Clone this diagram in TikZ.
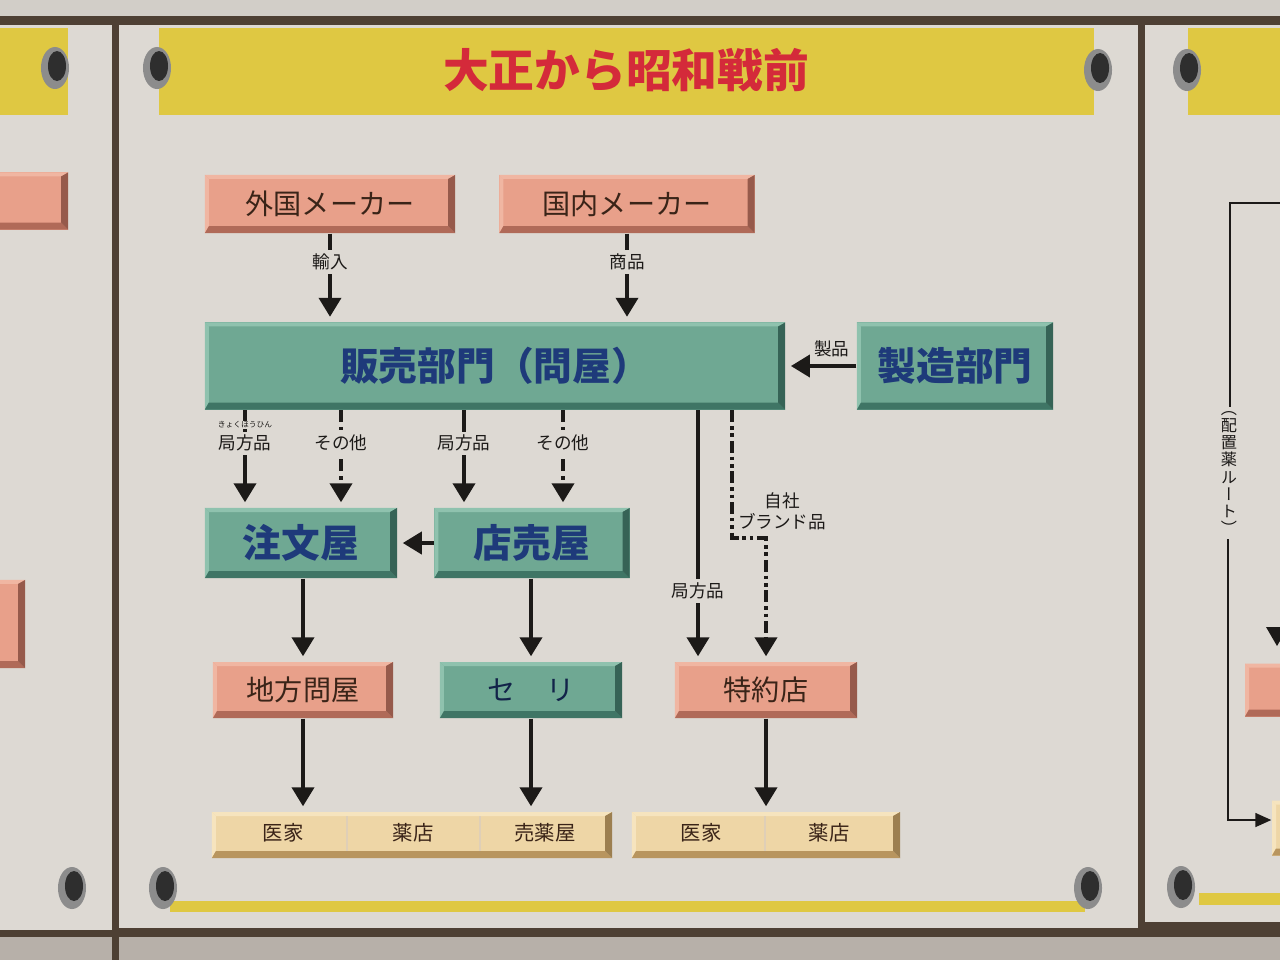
\documentclass[tikz,border=0pt]{standalone}
\usepackage{fontspec}
\usepackage{xcolor}
\usetikzlibrary{arrows.meta,positioning,calc}
\setmainfont{Noto Sans CJK JP}
\newfontfamily\tatefont[RawFeature=+vert]{Noto Sans CJK JP}

\definecolor{panel}{HTML}{DDD9D3}
\definecolor{gapc}{HTML}{4E4034}
\definecolor{lowc}{HTML}{B7B0A9}
\definecolor{ylw}{HTML}{DFC842}
\definecolor{titlered}{HTML}{D42A3A}
\definecolor{peachc}{HTML}{E8A08A}
\definecolor{peachd}{HTML}{B06A58}
\definecolor{peachl}{HTML}{F0B6A2}
\definecolor{greenc}{HTML}{6FA893}
\definecolor{greend}{HTML}{3F7565}
\definecolor{greenl}{HTML}{8FC2AE}
\definecolor{creamc}{HTML}{EED6A6}
\definecolor{creamd}{HTML}{B8955E}
\definecolor{creaml}{HTML}{F6E4BE}
\definecolor{navy}{HTML}{1E3A7A}
\definecolor{browntext}{HTML}{3A2418}
\definecolor{linec}{HTML}{1C1A18}

\tikzset{
  bevel/.style n args={3}{fill=#1, inner sep=0pt, path picture={
    \coordinate (bsw) at (path picture bounding box.south west);
    \coordinate (bse) at (path picture bounding box.south east);
    \coordinate (bnw) at (path picture bounding box.north west);
    \coordinate (bne) at (path picture bounding box.north east);
    \fill[#3] (bnw) -- (bne) -- ([shift={(-0.07cm,-0.04cm)}]bne) -- ([shift={(0.04cm,-0.04cm)}]bnw) -- cycle;
    \fill[#3] (bnw) -- (bsw) -- ([shift={(0.04cm,0.07cm)}]bsw) -- ([shift={(0.04cm,-0.04cm)}]bnw) -- cycle;
    \fill[#2] (bsw) -- (bse) -- ([shift={(-0.07cm,0.07cm)}]bse) -- ([shift={(0.04cm,0.07cm)}]bsw) -- cycle;
    \fill[#2!85!black] (bse) -- (bne) -- ([shift={(-0.07cm,-0.04cm)}]bne) -- ([shift={(-0.07cm,0.07cm)}]bse) -- cycle;
  }},
  peachbox/.style={bevel={peachc}{peachd}{peachl}, text=browntext, font=\fontsize{8}{9}\selectfont},
  greenbox/.style={bevel={greenc}{greend}{greenl}, text=navy, font=\bfseries\fontsize{11}{12}\selectfont},
  creambox/.style={bevel={creamc}{creamd}{creaml}},
  endtxt/.style={text=browntext, font=\fontsize{5.8}{6.5}\selectfont},
  lbl/.style={fill=panel, inner sep=1pt, text=linec, font=\fontsize{5}{6}\selectfont},
  ruby/.style={fill=panel, inner sep=0.3pt, text=linec, font=\fontsize{2.2}{2.5}\selectfont},
  arr/.style={draw=linec, line width=1.1pt, -{Triangle[width=0.22cm,length=0.19cm]}, shorten >=0.05cm},
  dashdot/.style={dash pattern=on 3.4pt off 1.3pt on 1pt off 1.3pt},
  dashdotdot/.style={dash pattern=on 3.4pt off 1.1pt on 1pt off 1.1pt on 1pt off 1.1pt},
  route/.style={draw=linec, line width=0.45pt},
  screwring/.style={fill=black!45},
  screwhole/.style={fill=black!82},
}

\begin{document}
\begin{tikzpicture}[x=0.01cm, y=-0.01cm]
\clip (0,0) rectangle (1280,960);
% 背景のパネル
\fill[gapc] (0,0) rectangle (1280,960);
\fill[panel!95!black] (0,0) rectangle (1280,16);
\fill[panel] (0,25) rectangle (112,930);
\fill[panel] (119,25) rectangle (1138,928);
\fill[panel] (1145,25) rectangle (1280,922);
\fill[lowc] (0,937) rectangle (112,960); \fill[lowc] (119,937) rectangle (1280,960);
\fill[ylw] (0,28) rectangle (68,115); \fill[ylw] (159,28) rectangle (1094,115);
\fill[ylw] (1188,28) rectangle (1280,115);
\fill[ylw] (170,901) rectangle (1085,912); \fill[ylw] (1199,893) rectangle (1280,905);
% ねじ
\fill[screwring] (55,68) ellipse [x radius=0.14cm, y radius=0.21cm];
\fill[screwhole] (57,66) ellipse [x radius=0.09cm, y radius=0.15cm];
\fill[screwring] (157,68) ellipse [x radius=0.14cm, y radius=0.21cm];
\fill[screwhole] (159,66) ellipse [x radius=0.09cm, y radius=0.15cm];
\fill[screwring] (1098,70) ellipse [x radius=0.14cm, y radius=0.21cm];
\fill[screwhole] (1100,68) ellipse [x radius=0.09cm, y radius=0.15cm];
\fill[screwring] (1187,70) ellipse [x radius=0.14cm, y radius=0.21cm];
\fill[screwhole] (1189,68) ellipse [x radius=0.09cm, y radius=0.15cm];
\fill[screwring] (72,888) ellipse [x radius=0.14cm, y radius=0.21cm];
\fill[screwhole] (74,886) ellipse [x radius=0.09cm, y radius=0.15cm];
\fill[screwring] (163,888) ellipse [x radius=0.14cm, y radius=0.21cm];
\fill[screwhole] (165,886) ellipse [x radius=0.09cm, y radius=0.15cm];
\fill[screwring] (1088,888) ellipse [x radius=0.14cm, y radius=0.21cm];
\fill[screwhole] (1090,886) ellipse [x radius=0.09cm, y radius=0.15cm];
\fill[screwring] (1181,887) ellipse [x radius=0.14cm, y radius=0.21cm];
\fill[screwhole] (1183,885) ellipse [x radius=0.09cm, y radius=0.15cm];

\node[text=titlered, font=\bfseries\fontsize{13}{14}\selectfont] (title) at (626,70) {大正から昭和戦前};

% 箱
\node[peachbox, minimum width=2.5cm, minimum height=0.58cm] (gaikoku) at (330,204) {外国メーカー};
\node[peachbox, minimum width=2.55cm, minimum height=0.58cm] (kokunai) at (627,204) {国内メーカー};
\node[greenbox, minimum width=5.8cm, minimum height=0.87cm] (hanbai) at (495,366) {販売部門（問屋）};
\node[greenbox, minimum width=1.96cm, minimum height=0.87cm] (seizo) at (955,366) {製造部門};
\node[greenbox, minimum width=1.92cm, minimum height=0.7cm] (chumon) at (301,543) {注文屋};
\node[greenbox, minimum width=1.95cm, minimum height=0.7cm] (tenuri) at (532,543) {店売屋};
\node[peachbox, minimum width=1.8cm, minimum height=0.56cm] (chiho) at (303,690) {地方問屋};
\node[greenbox, font=\fontsize{8}{9}\selectfont, text=navy!60!black, minimum width=1.82cm, minimum height=0.56cm] (seri) at (531,690) {セ\hspace{1.1em}リ};
\node[peachbox, minimum width=1.82cm, minimum height=0.56cm] (tokuyaku) at (766,690) {特約店};
\node[creambox, minimum width=4.0cm, minimum height=0.46cm] (saki1) at (412,835) {};
\node[creambox, minimum width=2.68cm, minimum height=0.46cm] (saki2) at (766,835) {};
\draw[creamd!45, line width=0.3pt] (347,816) -- (347,851); \draw[creamd!45, line width=0.3pt] (480,816) -- (480,851);
\draw[creamd!45, line width=0.3pt] (765,816) -- (765,851);
\node[endtxt] (ika1) at (283,833) {医家};
\node[endtxt] (yaku1) at (413,833) {薬店};
\node[endtxt] (baiyaku) at (545,833) {売薬屋};
\node[endtxt] (ika2) at (701,833) {医家};
\node[endtxt] (yaku2) at (829,833) {薬店};

% 矢印
\draw[arr] (gaikoku) -- (hanbai.north -| gaikoku) node[lbl, pos=0.32] {輸入};
\draw[arr] (kokunai) -- (hanbai.north -| kokunai) node[lbl, pos=0.32] {商品};
\draw[arr] (seizo) -- (hanbai) node[lbl, fill=none, above=1pt, pos=0.35] {製品};
\draw[arr] (hanbai.south -| 245,0) -- (chumon.north -| 245,0)
  node[lbl, pos=0.34, label={[ruby, label distance=-0.5pt]above:きょくほうひん}] {局方品};
\draw[arr, dashdot] (hanbai.south -| 341,0) -- (chumon.north -| 341,0) node[lbl, pos=0.34] {その他};
\draw[arr] (hanbai.south -| 464,0) -- (tenuri.north -| 464,0) node[lbl, pos=0.34] {局方品};
\draw[arr, dashdot] (hanbai.south -| 563,0) -- (tenuri.north -| 563,0) node[lbl, pos=0.34] {その他};
\draw[arr] (tenuri) -- (chumon);
\draw[arr] (chumon.south -| chiho) -- (chiho);
\draw[arr] (tenuri.south -| seri) -- (seri);
\draw[arr] (hanbai.south -| 698,0) -- (tokuyaku.north -| 698,0) node[lbl, pos=0.72] {局方品};
\draw[arr, dashdotdot] (hanbai.south -| 732,0) -- (732,538) -- (tokuyaku.north |- 0,538) -- (tokuyaku);
\node[lbl, fill=none, align=center] (jisha) at (782,511) {自社\\ブランド品};
\draw[arr] (chiho) -- (saki1.north -| chiho);
\draw[arr] (seri) -- (saki1.north -| seri);
\draw[arr] (tokuyaku) -- (saki2);

% 隣のパネル
\node[peachbox, minimum width=1.3cm, minimum height=0.57cm] (lpeach1) at (3,201) {};
\node[peachbox, minimum width=1.0cm, minimum height=0.88cm] (lpeach2) at (-25,624) {};
\node[peachbox, minimum width=1.0cm, minimum height=0.53cm] (rpeach) at (1295,690) {};
\node[creambox, minimum width=1.0cm, minimum height=0.55cm] (rcream) at (1322,828) {};
\fill[linec] (1266,627) -- (1288,627) -- (1277,646) -- cycle;
\coordinate (routein) at (1290,203);
\node[fill=panel, inner sep=1pt, text=linec, align=center,
  font=\tatefont\fontsize{4.6}{4.9}\selectfont] (haichi) at (1229,473) {（\\配\\置\\薬\\ル\\ー\\ト\\）};
\draw[route] (routein) -- (1230,203) -- (haichi.north -| 1230,0);
\draw[route, -{Triangle[width=0.14cm,length=0.16cm]}] (haichi.south -| 1228,0) -- (1228,820) -- (rcream.west |- 0,820);
\end{tikzpicture}
\end{document}
